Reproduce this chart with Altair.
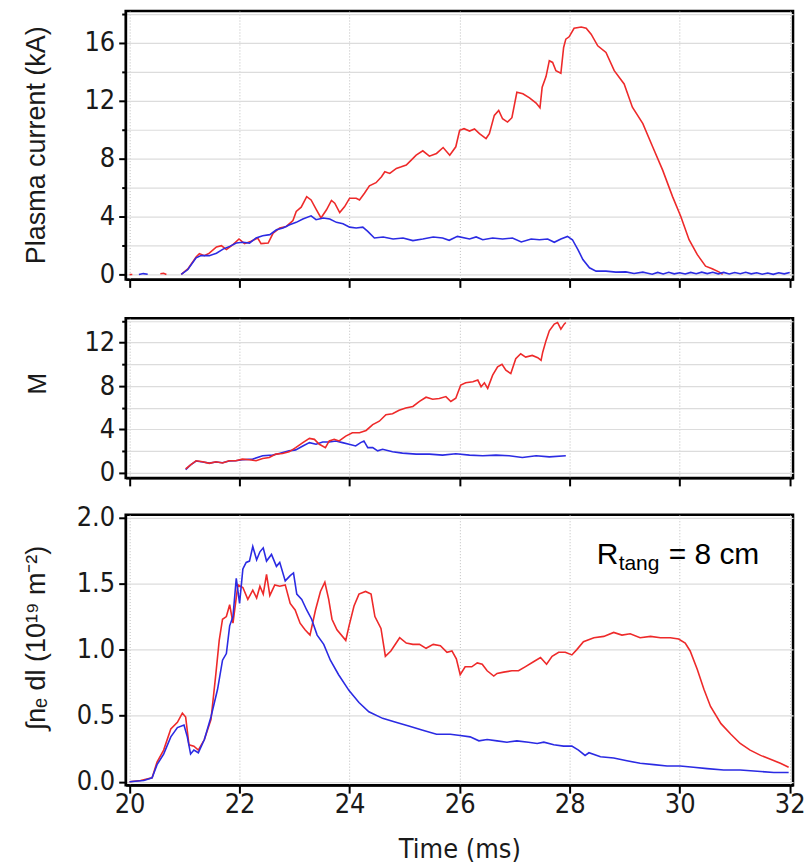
import altair as alt
import pandas as pd

RED = "#ee2a2a"
BLUE = "#2b2be3"
FONT_NUM = "Liberation Sans Narrow, DejaVu Sans Condensed, Arial Narrow, Liberation Sans, sans-serif"
FONT_TXT = "Liberation Sans, Arial, sans-serif"

# ---------------- axis ticks ----------------
time_ticks = [20, 22, 24, 26, 28, 30, 32]
ip_ticks = [0, 2, 4, 6, 8, 10, 12, 14, 16, 18]
m_ticks = [0, 2, 4, 6, 8, 10, 12, 14]
ne_ticks = [0.0, 0.5, 1.0, 1.5, 2.0]

# ---------------- plasma current (kA) ----------------
ip_red_pre1_t = [20.00, 20.05]
ip_red_pre1_v = [0.00, 0.00]
ip_red_pre2_t = [20.56, 20.62, 20.67]
ip_red_pre2_v = [0.05, 0.08, 0.00]
ip_red_t = [20.94, 21.06, 21.21, 21.27, 21.36, 21.45, 21.58, 21.67, 21.76, 21.88,
            21.99, 22.09, 22.21, 22.33, 22.39, 22.52, 22.61, 22.73, 22.85, 22.97,
            23.03, 23.12, 23.22, 23.30, 23.39, 23.48, 23.58, 23.67, 23.73, 23.82,
            23.91, 24.00, 24.12, 24.18, 24.27, 24.36, 24.48, 24.58, 24.64, 24.73,
            24.85, 24.94, 25.03, 25.12, 25.21, 25.33, 25.45, 25.58, 25.70, 25.82,
            25.93, 26.00, 26.08, 26.18, 26.27, 26.36, 26.48, 26.54, 26.63, 26.71,
            26.78, 26.87, 26.95, 27.04, 27.15, 27.27, 27.39, 27.46, 27.50, 27.57,
            27.63, 27.69, 27.75, 27.84, 27.89, 27.93, 27.99, 28.08, 28.21, 28.30,
            28.39, 28.51, 28.66, 28.81, 28.99, 29.14, 29.33, 29.51, 29.69, 29.87,
            30.02, 30.17, 30.32, 30.47, 30.59, 30.72, 30.78]
ip_red_v = [0.00, 0.38, 1.21, 1.44, 1.30, 1.47, 1.90, 1.99, 1.72, 2.06,
            2.45, 2.13, 2.29, 2.52, 2.13, 2.17, 2.86, 3.21, 3.32, 3.73,
            4.35, 4.65, 5.38, 5.15, 4.51, 3.90, 4.47, 5.11, 4.92, 4.28,
            4.69, 5.27, 5.27, 5.15, 5.61, 6.12, 6.34, 6.75, 7.10, 6.98,
            7.33, 7.44, 7.56, 7.90, 8.24, 8.54, 8.17, 8.36, 8.77, 8.24,
            8.82, 9.96, 10.07, 9.91, 10.05, 9.73, 9.39, 9.73, 10.99, 11.33,
            10.76, 10.53, 10.83, 12.59, 12.48, 12.20, 11.84, 11.52, 12.94, 13.67,
            14.77, 14.65, 14.08, 13.90, 15.68, 16.26, 16.42, 17.01, 17.10, 17.01,
            16.60, 15.80, 15.34, 14.08, 13.16, 11.56, 10.42, 8.81, 7.21, 5.38,
            4.00, 2.40, 1.37, 0.57, 0.39, 0.16, 0.00]
ip_blue_pre_t = [20.17, 20.25, 20.33]
ip_blue_pre_v = [0.00, 0.06, 0.02]
ip_blue_t = [20.94, 21.06, 21.21, 21.30, 21.45, 21.58, 21.70, 21.82, 21.94, 22.06,
             22.18, 22.30, 22.42, 22.55, 22.67, 22.79, 22.91, 23.03, 23.15, 23.30,
             23.39, 23.52, 23.64, 23.76, 23.88, 24.00, 24.12, 24.24, 24.33, 24.45,
             24.61, 24.79, 24.97, 25.15, 25.33, 25.52, 25.69, 25.81, 25.96, 26.18,
             26.30, 26.42, 26.60, 26.78, 26.96, 27.12, 27.30, 27.45, 27.60, 27.72,
             27.84, 27.96, 28.05, 28.15, 28.24, 28.36, 28.48, 28.66, 28.84, 29.02,
             29.17, 29.33, 29.40, 29.50, 29.60, 29.70, 29.80, 29.90, 30.00, 30.10,
             30.20, 30.30, 30.40, 30.50, 30.60, 30.70, 30.80, 30.90, 31.00, 31.10,
             31.20, 31.30, 31.40, 31.50, 31.60, 31.70, 31.80, 31.90, 32.00]
ip_blue_v = [0.00, 0.34, 1.15, 1.30, 1.30, 1.47, 1.75, 1.94, 2.17, 2.22,
             2.17, 2.52, 2.68, 2.75, 3.09, 3.21, 3.44, 3.60, 3.83, 4.05,
             3.78, 3.90, 3.83, 3.60, 3.50, 3.27, 3.21, 3.27, 2.98, 2.52,
             2.59, 2.45, 2.52, 2.34, 2.45, 2.59, 2.52, 2.36, 2.63, 2.45,
             2.59, 2.40, 2.52, 2.45, 2.52, 2.25, 2.45, 2.40, 2.45, 2.22,
             2.45, 2.63, 2.40, 1.72, 1.03, 0.46, 0.23, 0.23, 0.16, 0.18,
             0.07, 0.16, 0.10, 0.02, 0.14, 0.03, 0.15, 0.04, 0.12, 0.03,
             0.14, 0.05, 0.16, 0.06, 0.15, 0.04, 0.14, 0.03, 0.13, 0.05,
             0.15, 0.04, 0.12, 0.02, 0.10, 0.01, 0.12, 0.04, 0.14]

# ---------------- M ----------------
m_red_t = [21.02, 21.11, 21.21, 21.33, 21.45, 21.57, 21.69, 21.81, 21.93, 22.05,
           22.18, 22.30, 22.42, 22.54, 22.66, 22.78, 22.90, 23.02, 23.15, 23.27,
           23.36, 23.45, 23.56, 23.63, 23.72, 23.81, 23.93, 24.05, 24.18, 24.30,
           24.42, 24.54, 24.66, 24.78, 24.90, 25.02, 25.15, 25.27, 25.39, 25.51,
           25.63, 25.75, 25.84, 25.93, 26.02, 26.11, 26.24, 26.33, 26.39, 26.45,
           26.51, 26.60, 26.69, 26.77, 26.84, 26.93, 27.02, 27.11, 27.20, 27.32,
           27.42, 27.48, 27.51, 27.57, 27.63, 27.72, 27.78, 27.84, 27.90, 27.93]
m_red_v = [0.36, 0.73, 1.12, 1.03, 0.88, 1.03, 0.91, 1.12, 1.12, 1.27,
           1.21, 1.12, 1.33, 1.42, 1.73, 1.79, 1.94, 2.33, 2.79, 3.18,
           3.09, 2.64, 2.33, 2.94, 3.09, 2.94, 3.39, 3.70, 3.70, 3.91,
           4.45, 4.76, 5.36, 5.45, 5.76, 5.97, 6.12, 6.58, 6.97, 6.79,
           6.85, 7.03, 6.58, 6.88, 8.09, 8.30, 8.39, 8.55, 7.94, 8.30,
           7.79, 9.00, 9.76, 10.00, 9.45, 9.15, 10.52, 10.97, 10.67, 10.82,
           10.61, 10.36, 11.12, 12.18, 13.09, 13.70, 13.85, 13.24, 13.70, 13.85]
m_blue_t = [21.02, 21.11, 21.21, 21.33, 21.45, 21.57, 21.69, 21.81, 21.93, 22.05,
            22.24, 22.42, 22.60, 22.72, 22.90, 23.02, 23.15, 23.27, 23.39, 23.51,
            23.63, 23.75, 23.87, 23.99, 24.11, 24.20, 24.26, 24.33, 24.42, 24.51,
            24.60, 24.78, 24.96, 25.21, 25.45, 25.69, 25.93, 26.18, 26.42, 26.66,
            26.90, 27.14, 27.39, 27.63, 27.93]
m_blue_v = [0.30, 0.73, 1.09, 1.00, 0.90, 1.00, 0.93, 1.10, 1.12, 1.21,
            1.27, 1.58, 1.64, 1.79, 2.03, 2.12, 2.48, 2.79, 2.64, 2.85,
            2.85, 2.94, 2.79, 2.64, 2.48, 2.79, 2.94, 2.33, 2.33, 2.03,
            2.18, 1.94, 1.82, 1.73, 1.73, 1.64, 1.76, 1.64, 1.58, 1.64,
            1.58, 1.42, 1.58, 1.48, 1.58]

# ---------------- line-integrated density ----------------
ne_red_t = [20.00, 20.20, 20.41, 20.50, 20.62, 20.75, 20.87, 20.96, 21.02, 21.08,
            21.17, 21.25, 21.36, 21.48, 21.57, 21.63, 21.69, 21.76, 21.82, 21.88,
            21.97, 22.06, 22.15, 22.24, 22.31, 22.37, 22.43, 22.49, 22.55, 22.64,
            22.73, 22.83, 22.92, 23.01, 23.10, 23.19, 23.28, 23.38, 23.47, 23.55,
            23.62, 23.68, 23.77, 23.93, 23.99, 24.08, 24.17, 24.29, 24.39, 24.46,
            24.57, 24.65, 24.75, 24.91, 25.03, 25.15, 25.27, 25.39, 25.52, 25.65,
            25.77, 25.86, 25.94, 26.01, 26.10, 26.22, 26.32, 26.41, 26.50, 26.62,
            26.68, 26.80, 26.95, 27.07, 27.19, 27.35, 27.47, 27.58, 27.68, 27.80,
            27.92, 28.04, 28.13, 28.25, 28.44, 28.62, 28.80, 28.95, 29.10, 29.28,
            29.47, 29.65, 29.83, 29.98, 30.10, 30.19, 30.32, 30.44, 30.56, 30.75,
            30.93, 31.10, 31.28, 31.47, 31.65, 31.83, 31.98]
ne_red_v = [0.00, 0.01, 0.03, 0.15, 0.24, 0.40, 0.45, 0.52, 0.49, 0.28,
            0.27, 0.24, 0.32, 0.47, 0.82, 1.07, 1.23, 1.25, 1.34, 1.20,
            1.49, 1.47, 1.38, 1.45, 1.39, 1.48, 1.42, 1.57, 1.41, 1.49,
            1.48, 1.49, 1.35, 1.30, 1.20, 1.15, 1.11, 1.30, 1.44, 1.51,
            1.38, 1.23, 1.15, 1.07, 1.18, 1.33, 1.42, 1.44, 1.42, 1.25,
            1.16, 0.95, 0.99, 1.09, 1.05, 1.04, 1.04, 1.01, 1.04, 1.03,
            0.98, 0.99, 0.93, 0.81, 0.87, 0.87, 0.90, 0.89, 0.84, 0.80,
            0.82, 0.83, 0.84, 0.84, 0.87, 0.91, 0.94, 0.89, 0.95, 0.98,
            0.98, 0.96, 1.00, 1.06, 1.09, 1.10, 1.13, 1.11, 1.12, 1.09,
            1.10, 1.09, 1.09, 1.08, 1.05, 0.99, 0.85, 0.70, 0.57, 0.44,
            0.36, 0.29, 0.24, 0.20, 0.17, 0.14, 0.11]
ne_blue_t = [20.00, 20.26, 20.41, 20.50, 20.62, 20.75, 20.87, 20.99, 21.05, 21.11,
             21.17, 21.25, 21.36, 21.48, 21.60, 21.69, 21.76, 21.82, 21.88, 21.94,
             22.00, 22.06, 22.12, 22.18, 22.24, 22.31, 22.37, 22.43, 22.49, 22.58,
             22.67, 22.73, 22.83, 22.92, 22.98, 23.04, 23.13, 23.22, 23.31, 23.41,
             23.53, 23.65, 23.80, 23.99, 24.17, 24.35, 24.60, 24.84, 25.09, 25.33,
             25.58, 25.83, 26.01, 26.19, 26.35, 26.50, 26.68, 26.86, 27.04, 27.25,
             27.41, 27.53, 27.71, 27.89, 28.04, 28.16, 28.28, 28.35, 28.56, 28.80,
             29.04, 29.28, 29.53, 29.77, 30.01, 30.25, 30.50, 30.80, 31.10, 31.41,
             31.71, 31.98]
ne_blue_v = [0.00, 0.01, 0.03, 0.13, 0.21, 0.34, 0.41, 0.43, 0.34, 0.21,
             0.24, 0.22, 0.32, 0.49, 0.70, 0.92, 0.97, 1.18, 1.25, 1.54,
             1.35, 1.61, 1.66, 1.67, 1.78, 1.68, 1.74, 1.77, 1.67, 1.72,
             1.63, 1.66, 1.52, 1.56, 1.58, 1.42, 1.38, 1.30, 1.23, 1.11,
             1.04, 0.92, 0.81, 0.69, 0.60, 0.53, 0.48, 0.45, 0.42, 0.39,
             0.36, 0.36, 0.35, 0.34, 0.31, 0.32, 0.31, 0.30, 0.31, 0.30,
             0.29, 0.30, 0.28, 0.27, 0.27, 0.24, 0.20, 0.22, 0.19, 0.18,
             0.16, 0.14, 0.13, 0.12, 0.12, 0.11, 0.10, 0.09, 0.09, 0.08,
             0.07, 0.07]

# annotation anchor (data coordinates)
ann_main_t, ann_main_v = 28.49, 1.648
ann_sub_t, ann_sub_v = 28.89, 1.602
ann_rest_t, ann_rest_v = 29.80, 1.648


def seg_df(t, v, series, seg):
    return pd.DataFrame({"t": t, "v": v, "series": series, "seg": seg})


ip_red = pd.concat([seg_df(ip_red_pre1_t, ip_red_pre1_v, "red", "a"),
                    seg_df(ip_red_pre2_t, ip_red_pre2_v, "red", "b"),
                    seg_df(ip_red_t, ip_red_v, "red", "c")])
ip_blue = pd.concat([seg_df(ip_blue_pre_t, ip_blue_pre_v, "blue", "a"),
                     seg_df(ip_blue_t, ip_blue_v, "blue", "c")])
m_red = seg_df(m_red_t, m_red_v, "red", "c")
m_blue = seg_df(m_blue_t, m_blue_v, "blue", "c")
ne_red = seg_df(ne_red_t, ne_red_v, "red", "c")
ne_blue = seg_df(ne_blue_t, ne_blue_v, "blue", "c")

X_DOMAIN = [19.93, 32.06]
W = 669


def x_enc(bottom):
    if bottom:
        ax = alt.Axis(values=time_ticks, format="d", grid=True, gridDash=[1, 2],
                      gridColor="#bdbdbd", gridWidth=1, tickSize=8, labelPadding=-2,
                      labelFontSize=27, labelFont=FONT_NUM, title="Time (ms)",
                      titleFont=FONT_NUM, titleFontSize=27, titleFontWeight="normal",
                      titlePadding=20)
        return alt.X("t:Q", scale=alt.Scale(domain=X_DOMAIN, nice=False, zero=False), axis=ax)
    ax = alt.Axis(values=time_ticks, grid=True, gridDash=[1, 2], gridColor="#bdbdbd",
                  gridWidth=1, tickSize=8, labels=False)
    return alt.X("t:Q", scale=alt.Scale(domain=X_DOMAIN, nice=False, zero=False),
                 axis=ax, title=None)


def y_enc(domain, values, title, label_expr, tick_cond, title_x, title_y, fmt, tsize):
    kw = dict(values=values, grid=True, gridColor="#dcdcdc", gridWidth=1.2,
              labelFont=FONT_NUM, labelFontSize=27, labelPadding=4,
              title=title, titleFont=FONT_TXT, titleFontSize=tsize,
              titleFontWeight="normal", titleX=title_x, titleY=title_y, format=fmt)
    if label_expr:
        kw["labelExpr"] = label_expr
    if tick_cond:
        kw["tickSize"] = {"condition": {"test": tick_cond, "value": 7}, "value": 4}
    else:
        kw["tickSize"] = 7
    return alt.Y("v:Q", scale=alt.Scale(domain=domain, nice=False, zero=False),
                 axis=alt.Axis(**kw))


def lines(df, color, bottom, yenc):
    return alt.Chart(df).mark_line(color=color, strokeWidth=1.6, clip=True).encode(
        x=x_enc(bottom), y=yenc, detail="seg:N")


y_top = y_enc([-0.34, 18.2], ip_ticks, "Plasma current (kA)",
              "datum.value % 4 === 0 ? datum.label : ''", "datum.value % 4 === 0",
              -75, 134, "d", 27)
top = alt.layer(lines(ip_red, RED, False, y_top),
                lines(ip_blue, BLUE, False, y_top)).properties(width=W, height=269)

y_mid = y_enc([-0.46, 14.24], m_ticks, "M",
              "datum.value % 4 === 0 ? datum.label : ''", "datum.value % 4 === 0",
              -75, 65, "d", 26)
mid = alt.layer(lines(m_blue, BLUE, False, y_mid),
                lines(m_red, RED, False, y_mid)).properties(width=W, height=160)

y_bot = y_enc([-0.025, 2.02], ne_ticks, "\u222bn\u2091 dl (10\u00b9\u2079 m\u207b\u00b2)",
              None, None, -75, 123, ".1f", 27)
ann_df = pd.DataFrame({"t": [ann_main_t, ann_sub_t, ann_rest_t],
                       "v": [ann_main_v, ann_sub_v, ann_rest_v],
                       "txt": ["R", "tang", "= 8 cm"],
                       "size": ["big", "small", "big"]})
ann_big = alt.Chart(ann_df[ann_df["size"] == "big"]).mark_text(
    align="left", baseline="alphabetic", font=FONT_TXT, fontSize=30, color="black"
).encode(x=alt.X("t:Q"), y=alt.Y("v:Q"), text="txt:N")
ann_small = alt.Chart(ann_df[ann_df["size"] == "small"]).mark_text(
    align="left", baseline="alphabetic", font=FONT_TXT, fontSize=21, color="black"
).encode(x=alt.X("t:Q"), y=alt.Y("v:Q"), text="txt:N")
bot = alt.layer(lines(ne_red, RED, True, y_bot),
                lines(ne_blue, BLUE, True, y_bot),
                ann_big, ann_small).properties(width=W, height=271)

upper = alt.vconcat(top, mid, spacing=26)
chart = alt.vconcat(upper, bot, spacing=13).properties(
    padding={"left": 21, "top": 8, "right": 4, "bottom": 0},
    background="white",
).configure_view(stroke="black", strokeWidth=2.5).configure_axis(
    domainColor="black", domainWidth=2, tickColor="black", tickWidth=2,
    labelColor="#1a1a1a", titleColor="#1a1a1a")

chart.save("out.html", embed_options={"renderer": "svg", "actions": False})
